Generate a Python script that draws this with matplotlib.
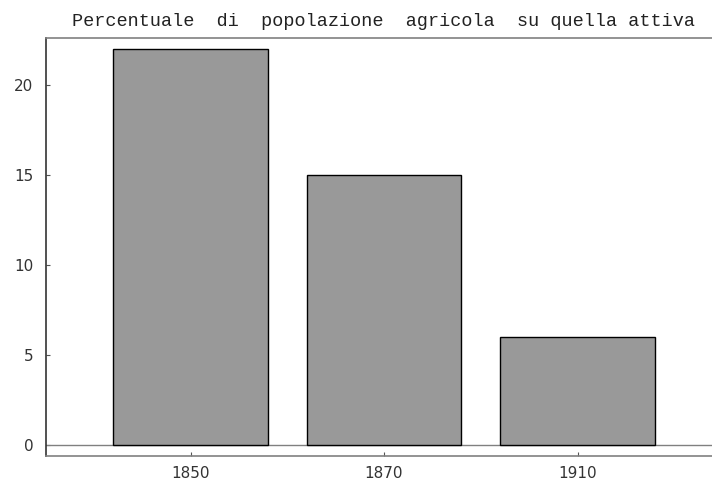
import matplotlib
matplotlib.use("Agg")
import matplotlib.pyplot as plt

plt.rcParams["font.family"] = ["DejaVu Sans"]

categories = ["1850", "1870", "1910"]
values = [22, 15, 6]
yticks = [0, 5, 10, 15, 20]
title = "Percentuale  di  popolazione  agricola  su quella attiva"

W, H = 712, 483
fig = plt.figure(figsize=(W / 100, H / 100), dpi=100)
ax = fig.add_axes([46 / W, 1 - 456 / H, 1 - 46 / W, (456 - 37.5) / H])

x = list(range(len(categories)))
ax.bar(x, values, width=0.8, color="#999999", edgecolor="black", linewidth=1.0, zorder=3)
ax.axhline(0, color="#808080", linewidth=1.0, zorder=2)

ax.set_xlim(-0.747, 2.695)
ax.set_ylim(-0.61, 22.64)

ax.set_xticks(x)
ax.set_xticklabels(categories)
ax.set_yticks(yticks)
ax.tick_params(axis="x", direction="in", length=3, width=0.8, color="#555555",
               labelsize=11, labelcolor="#333333", pad=7.5)
ax.tick_params(axis="y", direction="in", length=3, width=0.8, color="#555555",
               labelsize=11, labelcolor="#333333", pad=9)

ax.spines["left"].set_color("#333333")
ax.spines["left"].set_linewidth(1.2)
ax.spines["top"].set_color("#808080")
ax.spines["top"].set_linewidth(1.2)
ax.spines["bottom"].set_color("#808080")
ax.spines["bottom"].set_linewidth(1.2)
ax.spines["right"].set_visible(False)

fig.text(383.5 / W, 1 - 26 / H, title, ha="center", va="baseline",
         family=["Liberation Mono", "DejaVu Sans Mono"], fontsize=13.3, color="#222222")

fig.savefig("out.png", dpi=100)
